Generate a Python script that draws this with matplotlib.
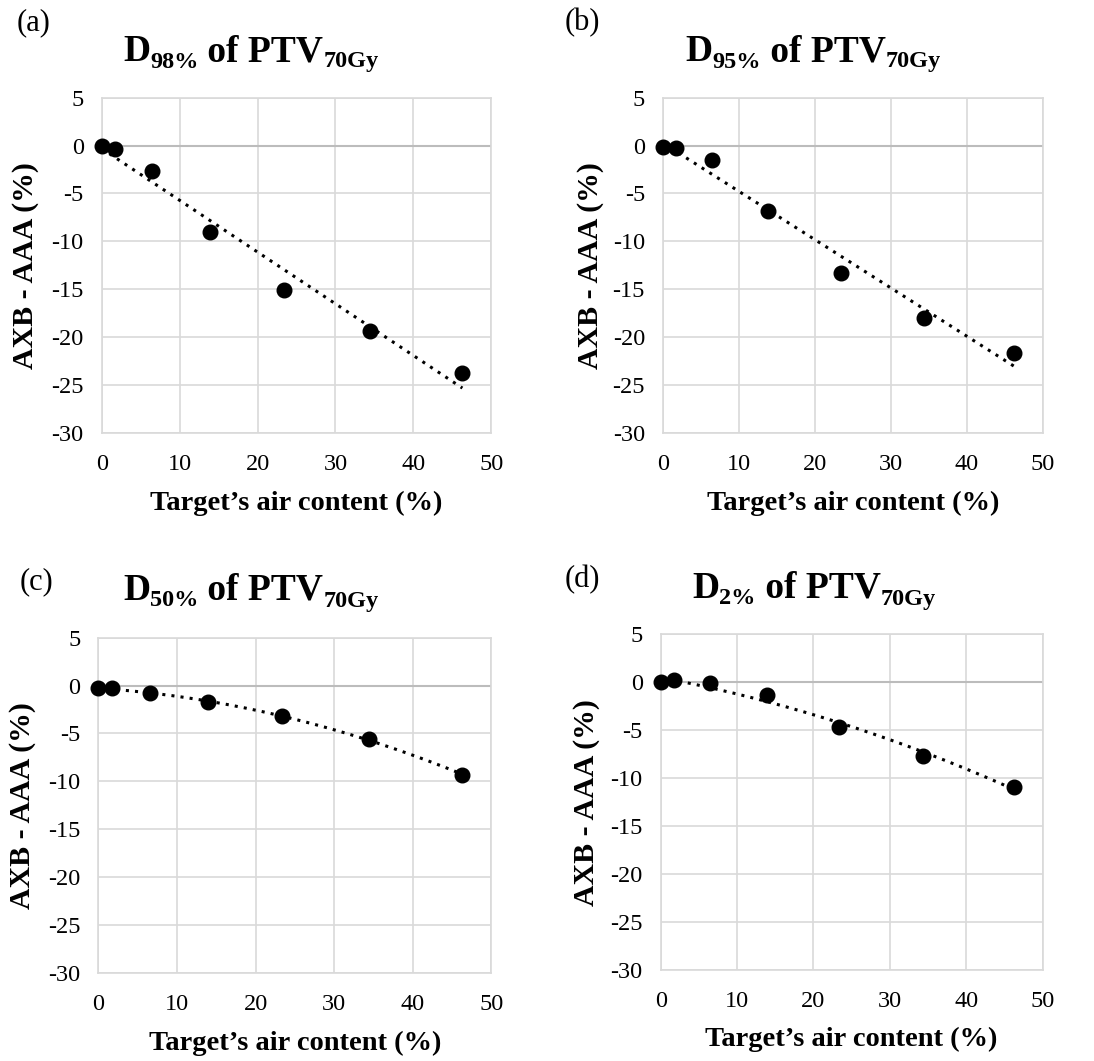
"""Four-panel scatter: AXB - AAA dose difference vs target air content."""
import matplotlib

matplotlib.use("Agg")

import matplotlib.pyplot as plt  # noqa: E402
import numpy as np  # noqa: E402

# ---------------------------------------------------------------------------
# Data
# ---------------------------------------------------------------------------
AIR_CONTENT = [0.0, 1.7, 6.5, 13.9, 23.4, 34.4, 46.3]

D98_DIFF = [-0.1, -0.4, -2.7, -9.0, -15.1, -19.4, -23.7]
D95_DIFF = [-0.2, -0.3, -1.5, -6.8, -13.3, -18.0, -21.7]
D50_DIFF = [-0.3, -0.3, -0.8, -1.7, -3.2, -5.6, -9.3]
D2_DIFF = [0.0, 0.2, -0.1, -1.3, -4.7, -7.7, -10.9]

PANEL_LETTERS = ["(a)", "(b)", "(c)", "(d)"]
DOSE_LEVELS = ["98%", "95%", "50%", "2%"]
TREND_DEGREE = [1, 1, 2, 2]

X_TICKS = [0, 10, 20, 30, 40, 50]
Y_TICKS = [5, 0, -5, -10, -15, -20, -25, -30]

# ---------------------------------------------------------------------------
# Style
# ---------------------------------------------------------------------------
plt.rcParams["font.family"] = ["Liberation Serif", "DejaVu Serif"]
plt.rcParams["axes.unicode_minus"] = False

GRID_COLOR = "#d9d9d9"
ZERO_COLOR = "#bcbcbc"

# axes rectangles in figure fraction: left, bottom, width, height
AXES_RECTS = [
    [0.093, 0.592, 0.356, 0.316],
    [0.606, 0.592, 0.347, 0.316],
    [0.090, 0.083, 0.359, 0.316],
    [0.604, 0.086, 0.349, 0.316],
]
# title start (x) and baseline (y) in pixels from top-left
TITLE_POS = [(123, 61), (685, 61), (123, 600), (692, 598)]
LETTER_POS = [(17, 23), (565, 23), (20, 582), (565, 580)]
YLABEL_X = [-0.197, -0.191, -0.193, -0.194]

TITLE_BIG = 27
TITLE_SMALL = 17.5
SUB_DROP = 6.5  # px

FIG_W, FIG_H = 1094, 1061

series = [D98_DIFF, D95_DIFF, D50_DIFF, D2_DIFF]

fig = plt.figure(figsize=(FIG_W / 100, FIG_H / 100), dpi=100)
renderer = fig.canvas.get_renderer()


def draw_title(x_px, y_px, dose):
    """Write 'D<sub>dose</sub> of PTV<sub>70Gy</sub>' piece by piece."""
    pieces = [("D", TITLE_BIG, 0), (dose, TITLE_SMALL, SUB_DROP),
              (" of PTV", TITLE_BIG, 0), ("70Gy", TITLE_SMALL, SUB_DROP)]
    cursor = x_px
    for text, size, drop in pieces:
        t = fig.text(cursor / FIG_W, 1 - (y_px + drop) / FIG_H, text,
                     fontsize=size, fontweight="bold", ha="left",
                     va="baseline")
        cursor = t.get_window_extent(renderer).x1


for i, values in enumerate(series):
    ax = fig.add_axes(AXES_RECTS[i])

    ax.set_xlim(0, 50)
    ax.set_ylim(-30, 5)
    ax.set_xticks(X_TICKS)
    ax.set_yticks(Y_TICKS)
    ax.tick_params(axis="both", length=0, labelsize=17.5)
    ax.tick_params(axis="y", pad=13)
    ax.tick_params(axis="x", pad=15)
    ax.grid(color=GRID_COLOR, linewidth=1.2, zorder=0)
    ax.set_axisbelow(True)
    for spine in ax.spines.values():
        spine.set_color(GRID_COLOR)
        spine.set_linewidth(1.2)
    ax.axhline(0, color=ZERO_COLOR, linewidth=1.5, zorder=1)

    # trendline (Excel-like fit over the data range)
    coeffs = np.polyfit(AIR_CONTENT, values, TREND_DEGREE[i])
    xs = np.linspace(min(AIR_CONTENT), max(AIR_CONTENT), 200)
    ax.plot(xs, np.polyval(coeffs, xs), color="black", linestyle=(0, (1, 2)),
            linewidth=2.2, dash_capstyle="butt", zorder=2)

    ax.plot(AIR_CONTENT, values, "o", color="black", markersize=10.5,
            zorder=3, clip_on=False)

    ax.set_ylabel("AXB - AAA (%)", fontsize=21.5, fontweight="bold")
    ax.yaxis.set_label_coords(YLABEL_X[i], 0.5)
    ax.yaxis.label.set_va("center")
    ax.set_xlabel("Target\u2019s air content (%)", fontsize=20.5,
                  fontweight="bold")
    ax.xaxis.set_label_coords(0.5, -0.209)
    ax.xaxis.label.set_va("center")

    draw_title(*TITLE_POS[i], DOSE_LEVELS[i])

    lx, ly = LETTER_POS[i]
    fig.text(lx / FIG_W, 1 - ly / FIG_H, PANEL_LETTERS[i], fontsize=22,
             ha="left", va="center")

fig.savefig("out.png", dpi=100)
